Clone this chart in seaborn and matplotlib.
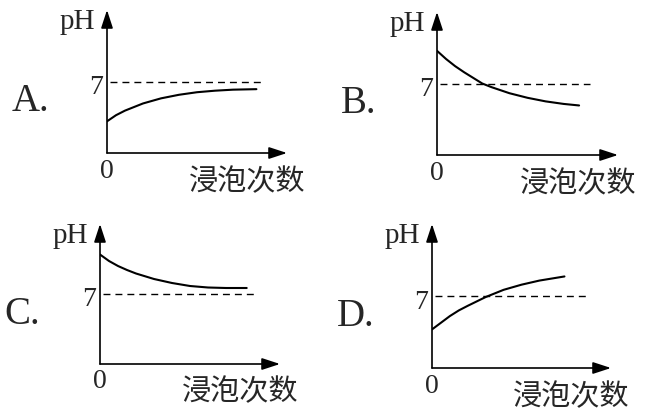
"""Four pH-vs-soak-count sketches (options A-D) drawn with seaborn."""

import matplotlib

matplotlib.use("Agg")
import matplotlib.pyplot as plt
import seaborn as sns

FIG_W, FIG_H = 646, 413

option_labels = ["A.", "B.", "C.", "D."]
x_label = "浸泡次数"
y_label = "pH"
neutral_ph = 7

# soak count (arbitrary units, arrow tip = 10) and pH readings per option
soak_a = [0, 0.5, 1, 1.5, 2, 3, 4, 5, 6, 7, 8.3]
ph_a = [3.1, 3.7, 4.15, 4.5, 4.85, 5.35, 5.7, 5.95, 6.1, 6.2, 6.25]

soak_b = [0, 0.5, 1, 1.5, 2, 2.5, 3, 4, 5, 6, 7, 7.85]
ph_b = [10.2, 9.4, 8.7, 8.1, 7.55, 7.0, 6.65, 6.05, 5.6, 5.25, 5.0, 4.85]

soak_c = [0, 0.5, 1, 1.5, 2, 3, 4, 5, 6, 7, 8.15]
ph_c = [10.95, 10.3, 9.8, 9.4, 9.05, 8.5, 8.1, 7.8, 7.65, 7.6, 7.6]

soak_d = [0, 0.5, 1, 1.5, 2, 3, 4, 5, 6, 7.4]
ph_d = [3.75, 4.4, 5.05, 5.6, 6.05, 6.9, 7.6, 8.1, 8.5, 8.9]

neutral_end = [8.6, 8.45, 8.6, 8.6]

# panel geometry in pixels: axis origin (x, y) and arrow tips
PANELS = [
    dict(origin=(107, 153), tip=(287, 10)),
    dict(origin=(437, 155), tip=(618, 12)),
    dict(origin=(100, 364), tip=(280, 224)),
    dict(origin=(432, 368), tip=(611, 224)),
]

SERIF = ["Liberation Serif", "DejaVu Serif"]
CJK = ["Noto Sans CJK SC", "DejaVu Sans"]


def add_panel(fig, geom):
    (x0, y0), (x1, y1) = geom["origin"], geom["tip"]
    ax = fig.add_axes([
        x0 / FIG_W,
        (FIG_H - y0) / FIG_H,
        (x1 - x0) / FIG_W,
        (y0 - y1) / FIG_H,
    ])
    ax.set_xlim(0, 10)
    ax.set_ylim(0, 14)
    ax.set_axis_off()
    arrow = dict(arrowstyle="-|>,head_length=0.55,head_width=0.18",
                 color="black", lw=1.2, mutation_scale=20,
                 shrinkA=0, shrinkB=0)
    ax.annotate("", xy=(1, 0), xytext=(0, 0), xycoords="axes fraction",
                arrowprops=arrow, annotation_clip=False)
    ax.annotate("", xy=(0, 1), xytext=(0, 0), xycoords="axes fraction",
                arrowprops=arrow, annotation_clip=False)
    return ax


def main():
    sns.set_theme(style="white")
    plt.rcParams["font.family"] = SERIF

    fig = plt.figure(figsize=(FIG_W / 100, FIG_H / 100), dpi=100)
    fig.patch.set_facecolor("white")

    series = [(soak_a, ph_a), (soak_b, ph_b), (soak_c, ph_c), (soak_d, ph_d)]
    for i, geom in enumerate(PANELS):
        ax = add_panel(fig, geom)
        soak, ph = series[i]
        sns.lineplot(x=soak, y=ph, ax=ax, color="black", linewidth=1.5,
                     sort=False, estimator=None)
        ax.hlines(neutral_ph, 0.15, neutral_end[i], colors="black",
                  linewidth=1.0, linestyles=(0, (5, 3.6)))

        ax.text(-1.65, 12.8, y_label, ha="center", va="center", fontsize=21,
                family=SERIF, clip_on=False)
        ax.text(-0.2, 6.4, str(neutral_ph), ha="right", va="center",
                fontsize=20, family=SERIF, clip_on=False)
        ax.text(0.02, -1.8, "0", ha="center", va="center", fontsize=20,
                family=SERIF, clip_on=False)
        ax.text(7.8, -2.85, x_label, ha="center", va="center", fontsize=21,
                family=CJK, clip_on=False)
        ax.text(-5.3, 5.0, option_labels[i], ha="left", va="center",
                fontsize=28, family=SERIF, clip_on=False)

    fig.savefig("out.png", dpi=100, facecolor="white")
    plt.close(fig)


if __name__ == "__main__":
    main()
